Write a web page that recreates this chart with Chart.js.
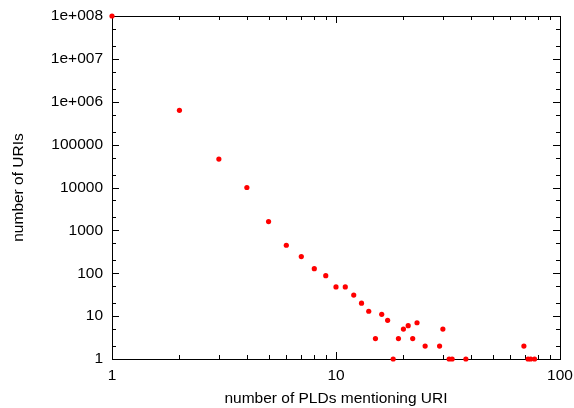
<!DOCTYPE html>
<html>
<head>
<meta charset="utf-8">
<script src="https://cdn.jsdelivr.net/npm/chart.js@4/dist/chart.umd.min.js"></script>
<style>
  html, body { margin: 0; padding: 0; background: #fff; }
  #wrap { width: 574px; height: 408px; }
</style>
</head>
<body>
<div id="wrap"><canvas id="plot" width="574" height="408"></canvas></div>
<script>
// ================================
// data
// ================================
const pldCounts = [1, 2, 3, 4, 5, 6, 7, 8, 9, 10, 11, 12, 13, 14, 15, 16, 17, 18, 19, 20,
                   21, 22, 23, 25, 29, 30, 32, 33, 38, 69, 72, 74, 77];
const uriCounts = [1e8, 630000, 46000, 10000, 1600, 450, 245, 128, 88, 48, 48, 31, 20, 13, 3, 11, 8, 1, 3, 5,
                   6, 3, 7, 2, 2, 5, 1, 1, 1, 2, 1, 1, 1];
const xTickValues = [1, 10, 100];
const yTickValues = [1, 10, 100, 1000, 10000, 100000, 1e6, 1e7, 1e8];
const xMinorSteps = [2, 3, 4, 5, 6, 7, 8, 9];
const yMinorSteps = [2, 5];

const FONT = { family: "'Liberation Sans', Arial, sans-serif", size: 15.5 };

function yLabel(v) {
    if (v >= 1e6) {
        const exp = Math.round(Math.log10(v));
        return '1e+' + String(exp).padStart(3, '0');
    }
    return String(v);
}

// ================================
// frame with inward ticks on all four sides (gnuplot look)
// ================================
const framePlugin = {
    id: 'frame',
    beforeDatasetsDraw(chart) {
        const { ctx, chartArea: a, scales } = chart;
        const xs = scales.x, ys = scales.y;
        ctx.save();
        ctx.strokeStyle = '#000';
        ctx.lineWidth = 1;
        ctx.beginPath();

        function xTick(v, len) {
            const px = Math.round(xs.getPixelForValue(v)) + 0.5;
            ctx.moveTo(px, a.bottom); ctx.lineTo(px, a.bottom - len);
            ctx.moveTo(px, a.top); ctx.lineTo(px, a.top + len);
        }
        function yTick(v, len) {
            const py = Math.round(ys.getPixelForValue(v)) + 0.5;
            ctx.moveTo(a.left, py); ctx.lineTo(a.left + len, py);
            ctx.moveTo(a.right, py); ctx.lineTo(a.right - len, py);
        }

        xTickValues.forEach((d, i) => {
            xTick(d, 7);
            if (i < xTickValues.length - 1) xMinorSteps.forEach(m => xTick(d * m, 4));
        });
        yTickValues.forEach((d, i) => {
            yTick(d, 7);
            if (i < yTickValues.length - 1) yMinorSteps.forEach(m => yTick(d * m, 4));
        });
        ctx.stroke();

        ctx.strokeRect(Math.round(a.left) + 0.5, Math.round(a.top) + 0.5,
                       Math.round(a.right - a.left), Math.round(a.bottom - a.top));
        ctx.restore();
    }
};

new Chart(document.getElementById('plot'), {
    type: 'scatter',
    data: {
        datasets: [{
            data: pldCounts.map((x, i) => ({ x: x, y: uriCounts[i] })),
            backgroundColor: '#ff0000',
            borderColor: '#ff0000',
            borderWidth: 0,
            pointRadius: 2.6,
            clip: false
        }]
    },
    options: {
        responsive: false,
        animation: false,
        layout: { padding: { top: 16, right: 14, left: 0, bottom: 0 } },
        plugins: { legend: { display: false }, tooltip: { enabled: false } },
        scales: {
            x: {
                type: 'logarithmic',
                min: 1, max: 100,
                grid: { display: false, drawTicks: false },
                border: { display: false },
                afterBuildTicks: s => { s.ticks = xTickValues.map(v => ({ value: v })); },
                afterFit: s => { s.height = 49; s.paddingLeft = 0; s.paddingRight = 0; },
                ticks: { color: '#000', font: FONT, padding: 7, maxRotation: 0,
                         callback: v => String(v) },
                title: { display: true, text: 'number of PLDs mentioning URI', color: '#000',
                         font: FONT, padding: { top: 0, bottom: 0 } }
            },
            y: {
                type: 'logarithmic',
                min: 1, max: 1e8,
                grid: { display: false, drawTicks: false },
                border: { display: false },
                afterBuildTicks: s => { s.ticks = yTickValues.map(v => ({ value: v })); },
                afterFit: s => { s.width = 112; s.paddingTop = 0; s.paddingBottom = 0; },
                ticks: { color: '#000', font: FONT, padding: 9, callback: v => yLabel(v) },
                title: { display: true, text: 'number of URIs', color: '#000',
                         font: FONT, padding: { top: 9, bottom: 0 } }
            }
        }
    },
    plugins: [framePlugin]
});
</script>
</body>
</html>
